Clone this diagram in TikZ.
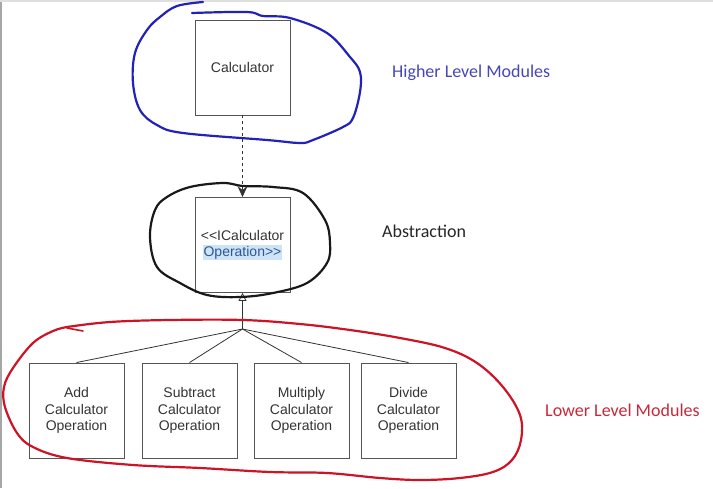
\documentclass[tikz,border=0pt]{standalone}
\usepackage{xcolor}
\usepackage{fontspec}
\setmainfont{Liberation Sans}
\newfontfamily\noteFont{Carlito}
\usepackage{tikz}
\usetikzlibrary{arrows.meta, calc, positioning}
\def\boxSize{95}
\def\rowY{410.5}
\definecolor{boxLine}{HTML}{555555}
\definecolor{boxText}{HTML}{333333}
\definecolor{opBlue}{HTML}{2B5797}
\definecolor{opHighlight}{HTML}{CFE3F7}
\definecolor{inkBlue}{HTML}{2222BB}
\definecolor{inkRed}{HTML}{CC1426}
\definecolor{noteBlue}{HTML}{4646B8}
\definecolor{noteRed}{HTML}{C8283C}
\tikzset{
    classBox/.style={draw=boxLine, line width=0.9pt, minimum width=\boxSize pt, minimum height=\boxSize pt,
        inner sep=0pt, align=center, text=boxText, font=\fontsize{14}{16.5}\selectfont},
    noteText/.style={anchor=west, inner sep=0pt, font=\noteFont\fontsize{18}{20}\selectfont},
    inkLine/.style={line width=2.2pt, line cap=round, line join=round},
    link/.style={draw=black!80, line width=0.8pt}
}

\begin{document}
\begin{tikzpicture}[x=1pt, y=-1pt]
            \useasboundingbox (0,0) rectangle (713,488);
            % Window edges
            \draw[gray!70, line width=2pt] (1,0) -- (1,488);
            \draw[gray!25, line width=2pt] (0,1) -- (713,1);

            % Draw upper classes
            \node[classBox] (calculator) at (242.5, 67.5) {Calculator};
            \node[classBox] (iOperation) at (242.5, 245) {\mbox{<}\mbox{<}ICalculator\\[-1pt]
                {\setlength{\fboxsep}{0.5pt}\colorbox{opHighlight}{\textcolor{opBlue}{Operation\mbox{>}\mbox{>}}}}};
            \draw[link, dashed, -{Stealth[length=11pt, width=10pt, inset=4pt, line width=0.8pt]}] (calculator.south) -- (iOperation.north);

            % Draw lower classes
            \coordinate (fork) at (242.5, 329);
            \draw[link, -{Triangle[open, length=8pt, width=8pt]}] (fork) -- (iOperation.south);
            \foreach \op/\opName/\x in {add/Add/76.5, subtract/Subtract/189.5, multiply/Multiply/301.5, divide/Divide/408.5} {
                \node[classBox] (\op) at (\x, \rowY) {\opName\\Calculator\\Operation};
                \draw[link] (\op.north) -- (fork);
            }

            % Draw notes
            \node[noteText, text=noteBlue] (higherNote) at (392, 73) {Higher Level Modules};
            \node[noteText, text=black!85] (abstractionNote) at (382, 231) {Abstraction};
            \node[noteText, text=noteRed] (lowerNote) at (545, 410) {Lower Level Modules};

            % Draw ink loops
            \draw[inkLine, inkBlue] plot[smooth, tension=0.6] coordinates {(192,13) (247,12) (263,16) (290,18) (327,33) (350,57)
                (360,72) (360,92) (353,118) (343,127) (313,140) (300,143) (267,140) (183,133) (157,125) (140,110)
                (133,83) (135,53) (147,30) (160,17) (177,6) (203,2)};
            \draw[inkLine, black!90] plot[smooth cycle, tension=0.6] coordinates {(243,186) (273,187) (303,193) (325,220)
                (330,243) (327,263) (307,283) (273,293) (240,297) (207,295) (180,283) (157,267) (150,237) (155,210)
                (167,197) (190,187) (223,183)};
            \draw[inkLine, inkRed] plot[smooth, tension=0.6] coordinates {(67,327) (110,322) (170,320) (243,320) (300,324)
                (350,330) (400,338) (445,348) (477,363) (503,387) (520,415) (521,440) (512,460) (493,472) (460,478)
                (420,480) (380,478) (327,473) (270,472) (200,468) (133,465) (67,458) (33,447) (17,433) (5,407)
                (4,387) (13,368) (33,343) (53,331) (67,327)};
            \draw[inkLine, inkRed, line width=1.6pt] (67,328) -- (83,331);

        \end{tikzpicture}
\end{document}
